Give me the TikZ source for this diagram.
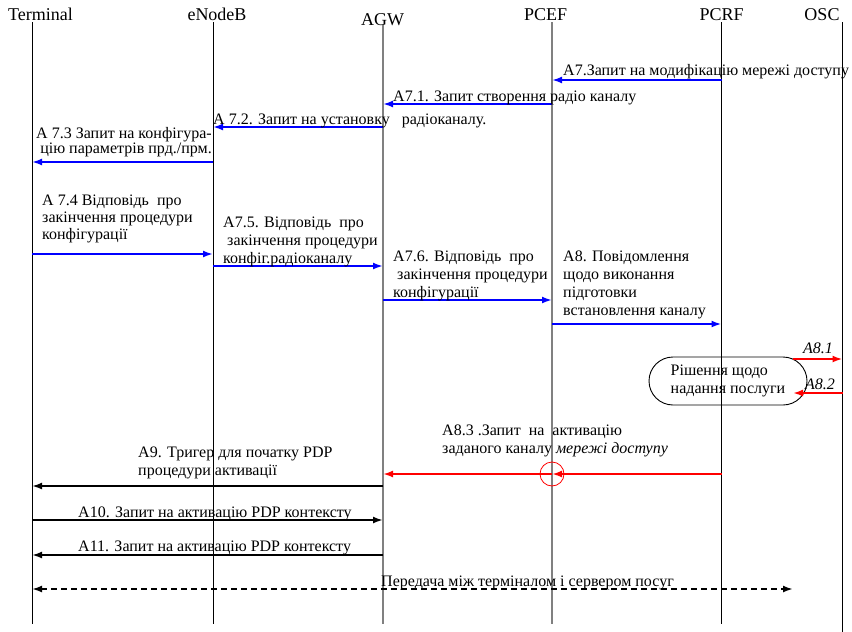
\documentclass[tikz,border=0pt]{standalone}
\usepackage{fontspec}
\setmainfont{Liberation Serif}
\usetikzlibrary{arrows.meta}

\begin{document}
\begin{tikzpicture}[x=1pt, y=-1pt,
    head/.style={font=\fontsize{18}{20}\selectfont, anchor=base, inner sep=0pt},
    lbl/.style={font=\fontsize{16}{17.7}\selectfont, anchor=base west, inner sep=0pt, align=left},
    life/.style={line width=0.9pt},
    glife/.style={line width=1.6pt, gray},
    msg/.style={line width=2pt, arrows={-Latex[length=10pt,width=7pt]}},
    bmsg/.style={msg, blue},
    rmsg/.style={msg, red},
    kmsg/.style={msg, black}]
  \useasboundingbox (0,0) rectangle (852,632);

  \node[head] (hterm) at (40.5,20.7) {Terminal};
  \node[head] (henb) at (217,20) {eNodeB};
  \node[head] (hagw) at (382.5,25) {AGW};
  \node[head] (hpcef) at (545.6,20) {PCEF};
  \node[head] (hpcrf) at (721.6,20) {PCRF};
  \node[head] (hosc) at (822,20) {OSC};

  \coordinate (term) at (32,22);
  \coordinate (enb) at (213,22);
  \coordinate (agw) at (383,25);
  \coordinate (pcef) at (552,22);
  \coordinate (pcrf) at (721.5,22);
  \coordinate (osc) at (842.5,22);
  \draw[life] (term) -- (term |- 0,624);
  \draw[life] (enb) -- (enb |- 0,624);
  \draw[glife] (agw) -- (agw |- 0,624);
  \draw[glife] (pcef) -- (pcef |- 0,624);
  \draw[life] (pcrf) -- (pcrf |- 0,624);
  \draw[life] (osc) -- (osc |- 0,632);

  \draw[bmsg] (pcrf |- 0,80) -- (pcef |- 0,80);
  \node[lbl] (l7) at (563,75) {A7.Запит на модифікацію мережі доступу};
  \draw[bmsg] (pcef |- 0,104) -- (agw |- 0,104);
  \node[lbl] (l71) at (393,101) {A7.1. Запит створення радіо каналу};
  \draw[bmsg] (agw |- 0,127) -- (enb |- 0,127);
  \node[lbl] (l72) at (213,124) {А 7.2. Запит на установку\hspace{12pt}радіоканалу.};
  \draw[bmsg] (enb |- 0,162) -- (term |- 0,162);
  \node[lbl, anchor=base east, align=right, font=\fontsize{16}{13.5}\selectfont] (l73) at (212,153.5)
    {А 7.3 Запит на конфігура-\\цію параметрів прд./прм.};

  \draw[bmsg] (term |- 0,254) -- (enb |- 0,254);
  \node[lbl, font=\fontsize{16}{16.6}\selectfont] (l74) at (42,239)
    {А 7.4 Відповідь\ \ про\\закінчення процедури\\конфігурації};
  \draw[bmsg] (enb |- 0,266) -- (agw |- 0,266);
  \node[lbl] (l75) at (223,263)
    {А7.5. Відповідь\ \ про\\\ закінчення процедури\\конфіг.радіоканалу};
  \draw[bmsg] (agw |- 0,300) -- (pcef |- 0,300);
  \node[lbl] (l76) at (393,297)
    {А7.6. Відповідь\ \ про\\\ закінчення процедури\\конфігурації};
  \draw[bmsg] (pcef |- 0,324) -- (pcrf |- 0,324);
  \node[lbl] (l8) at (563,315)
    {А8. Повідомлення\\щодо виконання\\підготовки\\встановлення каналу};

  \node[draw, line width=0.9pt, rounded corners=24pt, minimum width=158pt, minimum height=48pt,
    font=\fontsize{16}{17.7}\selectfont, align=left] (dec) at (728,381)
    {Рішення щодо\\надання послуги};
  \coordinate (d1) at (793,359);
  \coordinate (d2) at (793,393);
  \draw[rmsg] (d1) -- (osc |- 0,359);
  \node[lbl] (l81) at (803,353) {\textit{A8.1}};
  \draw[rmsg] (osc |- 0,393) -- (d2);
  \node[lbl] (l82) at (805,389) {\textit{A8.2}};

  \node[lbl] (l83) at (442,453)
    {А8.3 .Запит\ \ на\ \ активацію\\заданого каналу \textit{мережі доступу}};
  \draw[rmsg] (pcrf |- 0,474) -- (pcef |- 0,474);
  \draw[rmsg] (pcef |- 0,474) -- (agw |- 0,474);
  \node[draw=red, circle, line width=0.8pt, minimum size=24pt, inner sep=0pt] (cut) at (pcef |- 0,474) {};

  \draw[kmsg] (agw |- 0,486) -- (term |- 0,486);
  \node[lbl] (l9) at (138,475) {А9. Тригер для початку PDP\\процедури активації};
  \draw[kmsg] (term |- 0,520) -- (agw |- 0,520);
  \node[lbl] (l10) at (78,517) {А10. Запит на активацію PDP контексту};
  \draw[kmsg] (agw |- 0,555) -- (term |- 0,555);
  \node[lbl] (l11) at (78,551) {А11. Запит на активацію PDP контексту};

  \coordinate (srv) at (793,589);
  \draw[kmsg, dash pattern=on 6pt off 4pt, arrows={Latex[length=10pt,width=7pt]-Latex[length=10pt,width=7pt]}]
    (term |- 0,589) -- (srv);
  \node[lbl] (ldata) at (381,586) {Передача між терміналом і сервером посуг};
\end{tikzpicture}
\end{document}
